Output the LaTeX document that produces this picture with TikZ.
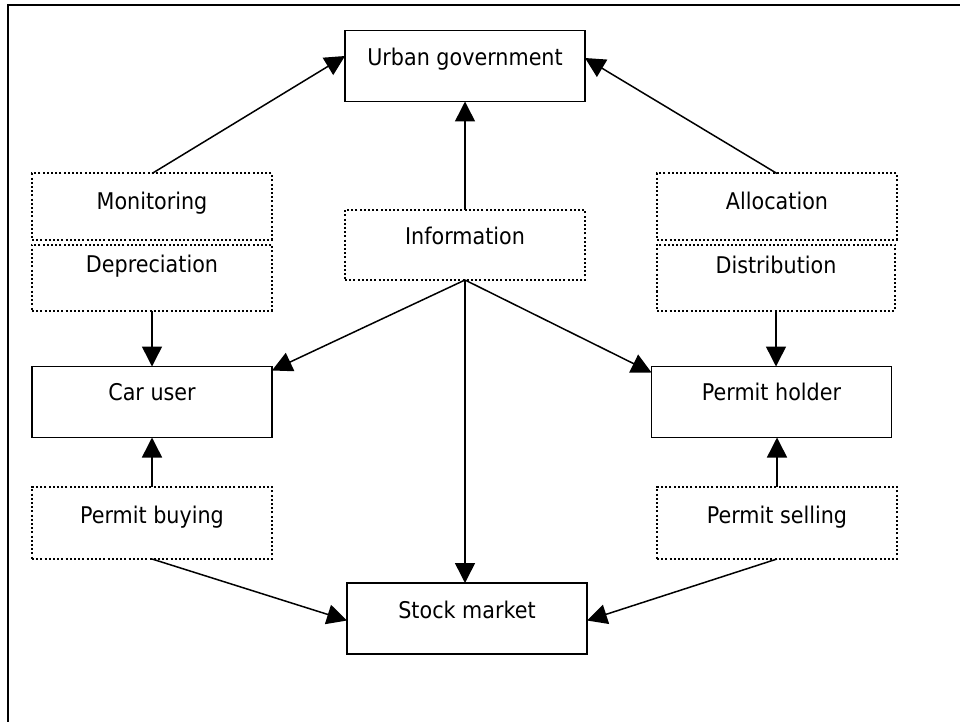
\documentclass[tikz,border=0pt]{standalone}
\usepackage{fontspec}
\setmainfont[FakeStretch=0.9]{DejaVu Sans}
\usetikzlibrary{arrows.meta}
\begin{document}
\begin{tikzpicture}[x=1pt,y=-1pt,
  solidbox/.style={draw, line width=1.9pt, minimum width=240pt, minimum height=71pt, inner sep=0pt, outer sep=0pt},
  dotbox/.style={draw, line width=2pt, dash pattern=on 2pt off 2.2pt, minimum width=240pt, minimum height=66pt, inner sep=0pt, outer sep=0pt},
  lbl/.style={anchor=base, font=\fontsize{23}{26}\selectfont, inner sep=0pt},
  arr/.style={line width=1.5pt, -{Triangle[length=20pt,width=20pt]}},
  frame/.style={line width=1.8pt}]
\useasboundingbox (0,0) rectangle (960,722);

% outer frame (top and left only)
\coordinate (ftr) at (960,5);
\coordinate (ftl) at (8,5);
\coordinate (fbl) at (8,722);
\draw[frame] (ftr) -- (ftl) -- (fbl);

% solid boxes
\node[solidbox] (ug) at (465,66) {};
\node[solidbox] (cu) at (152,402) {};
\node[solidbox] (ph) at (771.5,402) {};
\node[solidbox] (sm) at (467,618.5) {};

% dotted boxes
\node[dotbox, minimum height=70pt] (info) at (465,245) {};
\node[dotbox] (mon) at (152,206.5) {};
\node[dotbox] (dep) at (152,277.5) {};
\node[dotbox] (alc) at (777,206.5) {};
\node[dotbox, minimum width=238pt] (dis) at (776,277.5) {};
\node[dotbox, minimum height=72pt] (pb) at (152,523) {};
\node[dotbox, minimum height=72pt] (ps) at (777,523) {};

% labels
\node[lbl] (ugt) at ([yshift=-35pt]ug.north) {Urban government};
\node[lbl] (cut) at ([yshift=-34pt]cu.north) {Car user};
\node[lbl] (pht) at ([yshift=-34pt]ph.north) {Permit holder};
\node[lbl] (smt) at ([yshift=-35pt]sm.north) {Stock market};
\node[lbl] (infot) at ([yshift=-34pt]info.north) {Information};
\node[lbl] (mont) at ([yshift=-36pt]mon.north) {Monitoring};
\node[lbl] (dept) at ([yshift=-28pt]dep.north) {Depreciation};
\node[lbl] (alct) at ([yshift=-36pt]alc.north) {Allocation};
\node[lbl] (dist) at ([yshift=-29pt]dis.north) {Distribution};
\node[lbl] (pbt) at ([yshift=-36pt]pb.north) {Permit buying};
\node[lbl] (pst) at ([yshift=-36pt]ps.north) {Permit selling};

% connectors
\draw[arr] (mon.north) -- ([yshift=10pt]ug.west);
\draw[arr] (alc.north) -- ([yshift=8pt]ug.east);
\draw[arr] (info.north) -- (info.north |- ug.south);
\draw[arr] (info.south) -- ([yshift=-4pt]cu.north east);
\draw[arr] (info.south) -- ([yshift=-6pt]ph.north west);
\draw[arr] (info.south) -- (info.south |- sm.north);
\draw[arr] (dep.south) -- (dep.south |- cu.north);
\draw[arr] (dis.south) -- (dis.south |- ph.north);
\draw[arr] (pb.north) -- (pb.north |- cu.south);
\draw[arr] (ps.north) -- (ps.north |- ph.south);
\draw[arr] (pb.south) -- ([yshift=-2pt]sm.west);
\draw[arr] (ps.south) -- ([yshift=-2pt]sm.east);
\end{tikzpicture}
\end{document}
